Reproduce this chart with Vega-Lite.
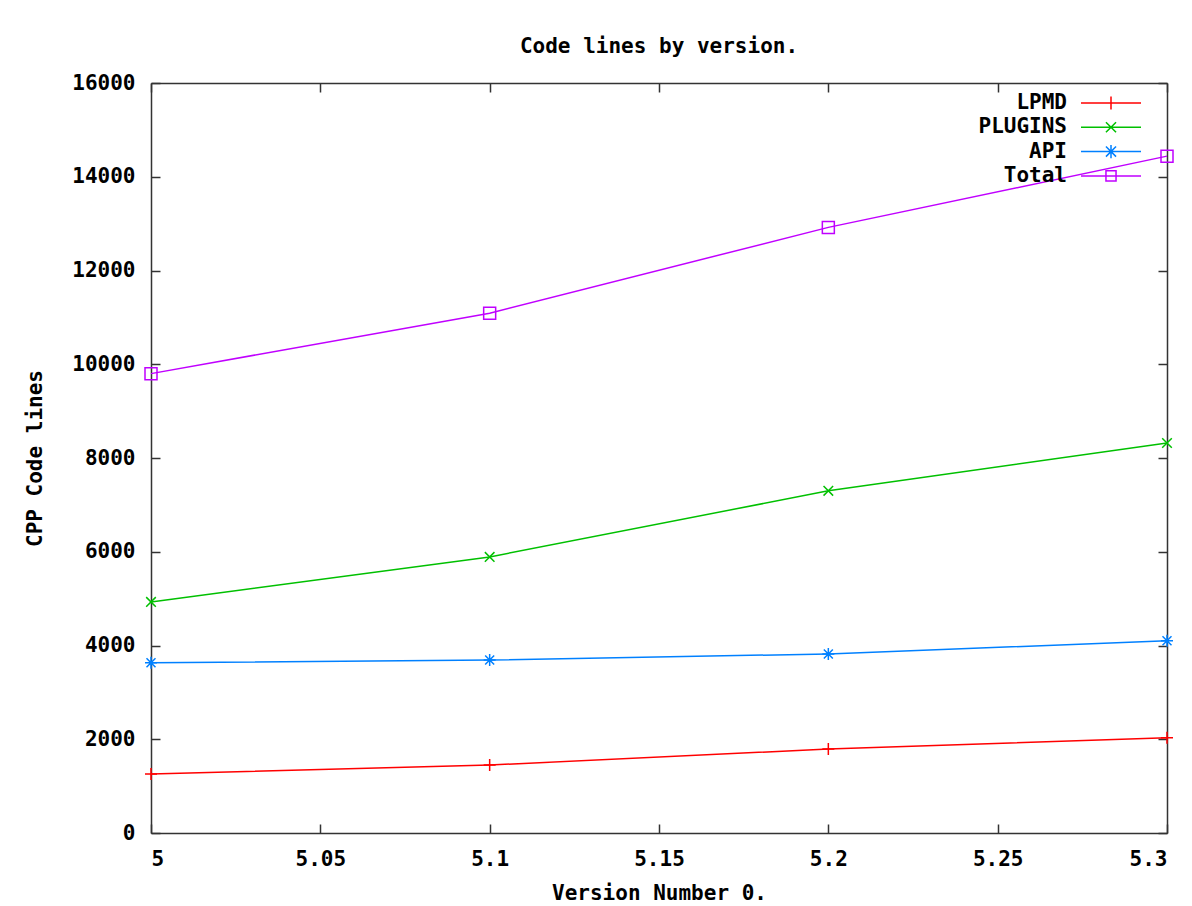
{
  "$schema": "https://vega.github.io/schema/vega-lite/v6.json",
  "autosize": {"type": "none"},
  "width": 1016,
  "height": 750,
  "padding": {"left": 151, "top": 83, "right": 25, "bottom": 73},
  "background": "white",
  "config": {
    "font": "DejaVu Sans Mono",
    "view": {"stroke": null},
    "axis": {
      "labelFont": "DejaVu Sans Mono", "labelFontWeight": "bold", "labelFontSize": 21, "labelColor": "#000",
      "titleFont": "DejaVu Sans Mono", "titleFontWeight": "bold", "titleFontSize": 21, "titleColor": "#000",
      "domainColor": "#333", "domainWidth": 1.5, "tickColor": "#333", "tickWidth": 1.5, "grid": false
    },
    "legend": {"labelFont": "DejaVu Sans Mono", "labelFontWeight": "bold", "labelFontSize": 21, "labelColor": "#000"}
  },
  "title": {"text": "Code lines by version.", "font": "DejaVu Sans Mono", "fontWeight": "bold", "fontSize": 21, "color": "#000", "anchor": "middle", "offset": 15},
  "data": {"values": [
    {"version": 5.0, "series": "LPMD", "lines": 1260},
    {"version": 5.1, "series": "LPMD", "lines": 1450},
    {"version": 5.2, "series": "LPMD", "lines": 1790},
    {"version": 5.3, "series": "LPMD", "lines": 2030},
    {"version": 5.0, "series": "PLUGINS", "lines": 4930},
    {"version": 5.1, "series": "PLUGINS", "lines": 5890},
    {"version": 5.2, "series": "PLUGINS", "lines": 7300},
    {"version": 5.3, "series": "PLUGINS", "lines": 8320},
    {"version": 5.0, "series": "API", "lines": 3630},
    {"version": 5.1, "series": "API", "lines": 3690},
    {"version": 5.2, "series": "API", "lines": 3820},
    {"version": 5.3, "series": "API", "lines": 4100},
    {"version": 5.0, "series": "Total", "lines": 9800},
    {"version": 5.1, "series": "Total", "lines": 11090},
    {"version": 5.2, "series": "Total", "lines": 12920},
    {"version": 5.3, "series": "Total", "lines": 14440}
  ]},
  "resolve": {"axis": {"x": "independent", "y": "independent"}},
  "layer": [
    {
      "mark": {"type": "line", "strokeWidth": 1.5, "clip": false},
      "encoding": {
        "x": {"field": "version", "type": "quantitative", "scale": {"domain": [5, 5.3], "nice": false, "zero": false},
              "axis": {"values": [5, 5.05, 5.1, 5.15, 5.2, 5.25, 5.3], "format": ".3~f", "title": "Version Number 0.", "tickSize": -9, "labelPadding": 24, "titlePadding": 13}},
        "y": {"field": "lines", "type": "quantitative", "scale": {"domain": [0, 16000], "nice": false},
              "axis": {"values": [0, 2000, 4000, 6000, 8000, 10000, 12000, 14000, 16000], "format": "d", "title": "CPP Code lines", "tickSize": -9, "labelPadding": 25, "titlePadding": 26}},
        "color": {"field": "series", "type": "nominal",
                  "scale": {"domain": ["LPMD", "PLUGINS", "API", "Total"], "range": ["#ff0000", "#00c000", "#0080ff", "#c000ff"]},
                  "legend": {"orient": "none", "legendX": 929, "legendY": 7, "title": null, "padding": 0,
                             "symbolSize": 576, "symbolOffset": 18, "labelAlign": "right", "labelOffset": -57, "labelBaseline": "middle", "rowPadding": 1.3,
                             "encode": {"symbols": {"update": {
                               "fill": {"value": "transparent"},
                               "strokeWidth": {"value": 1.5},
                               "shape": {"signal": "datum.value === 'LPMD' ? 'M-2.5,0H2.5M0,-0.55V0.55' : datum.value === 'PLUGINS' ? 'M-2.5,0H2.5M-0.42,-0.42L0.42,0.42M-0.42,0.42L0.42,-0.42' : datum.value === 'API' ? 'M-2.5,0H2.5M0,-0.55V0.55M-0.42,-0.42L0.42,0.42M-0.42,0.42L0.42,-0.42' : 'M-2.5,0H2.5M-0.42,-0.42H0.42V0.42H-0.42Z'"}
                             }}}}}
      }
    },
    {
      "transform": [{"filter": "datum.series === 'LPMD'"}],
      "mark": {"type": "point", "filled": false, "strokeWidth": 1.5, "size": 144, "opacity": 1, "clip": false, "shape": "M0,-1V1M-1,0H1", "color": "#ff0000"},
      "encoding": {
        "x": {"field": "version", "type": "quantitative", "axis": null},
        "y": {"field": "lines", "type": "quantitative", "axis": null}
      }
    },
    {
      "transform": [{"filter": "datum.series === 'PLUGINS'"}],
      "mark": {"type": "point", "filled": false, "strokeWidth": 1.5, "size": 144, "opacity": 1, "clip": false, "shape": "M-0.8,-0.8L0.8,0.8M-0.8,0.8L0.8,-0.8", "color": "#00c000"},
      "encoding": {
        "x": {"field": "version", "type": "quantitative", "axis": null},
        "y": {"field": "lines", "type": "quantitative", "axis": null}
      }
    },
    {
      "transform": [{"filter": "datum.series === 'API'"}],
      "mark": {"type": "point", "filled": false, "strokeWidth": 1.5, "size": 144, "opacity": 1, "clip": false, "shape": "M0,-1V1M-1,0H1M-0.75,-0.75L0.75,0.75M-0.75,0.75L0.75,-0.75", "color": "#0080ff"},
      "encoding": {
        "x": {"field": "version", "type": "quantitative", "axis": null},
        "y": {"field": "lines", "type": "quantitative", "axis": null}
      }
    },
    {
      "transform": [{"filter": "datum.series === 'Total'"}],
      "mark": {"type": "point", "filled": false, "strokeWidth": 1.5, "size": 144, "opacity": 1, "clip": false, "shape": "M-1,-1H1V1H-1Z", "color": "#c000ff"},
      "encoding": {
        "x": {"field": "version", "type": "quantitative", "axis": null},
        "y": {"field": "lines", "type": "quantitative", "axis": null}
      }
    },
    {
      "mark": {"type": "point", "opacity": 0},
      "encoding": {
        "x": {"field": "version", "type": "quantitative",
              "axis": {"orient": "top", "values": [5, 5.05, 5.1, 5.15, 5.2, 5.25, 5.3], "labels": false, "title": null, "tickSize": -9}},
        "y": {"field": "lines", "type": "quantitative",
              "axis": {"orient": "right", "values": [0, 2000, 4000, 6000, 8000, 10000, 12000, 14000, 16000], "labels": false, "title": null, "tickSize": -9}}
      }
    }
  ]
}
